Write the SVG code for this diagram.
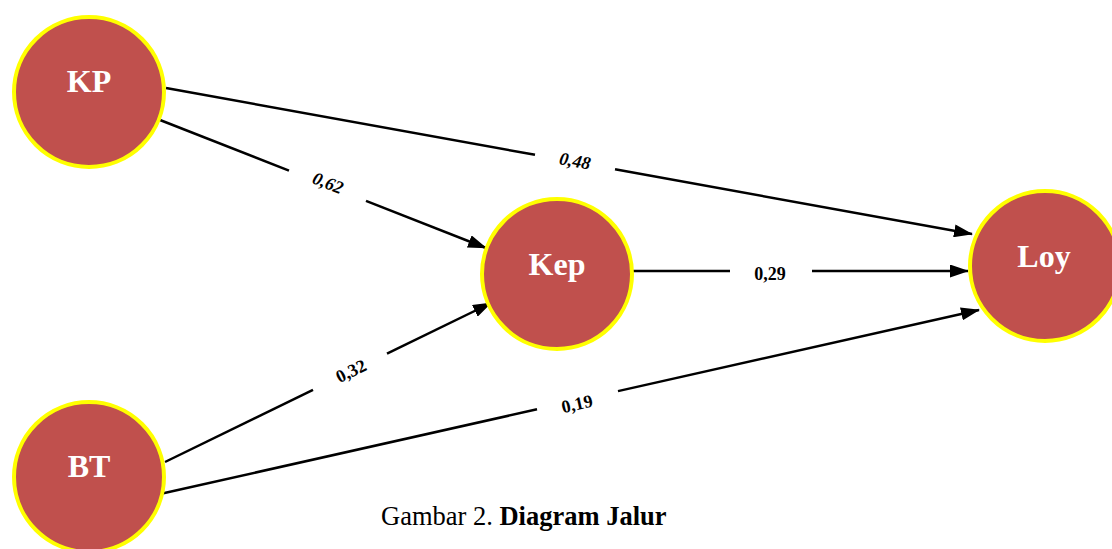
<svg xmlns="http://www.w3.org/2000/svg" width="1112" height="549" viewBox="0 0 1112 549">
<style>
.node{fill:#C0504D;stroke:#FFFF00;stroke-width:4}
.nt{font-family:"Liberation Serif",serif;font-weight:bold;font-size:32px;fill:#FFFFFF;text-anchor:middle}
.ln{stroke:#000;stroke-width:2.5;fill:none}
.lb{font-family:"Liberation Serif",serif;font-weight:bold;font-size:18px;fill:#000;text-anchor:middle;dominant-baseline:central}
.it{font-style:italic}
.cap{font-family:"Liberation Serif",serif;font-size:26.5px;fill:#000}
</style>
<defs>
<marker id="ah" markerUnits="userSpaceOnUse" markerWidth="19" markerHeight="13" refX="18" refY="6.5" orient="auto">
<path d="M0,0 L19,6.5 L0,13 z" fill="#000"/>
</marker>
</defs>
<rect width="1112" height="549" fill="#fff"/>
<g id="connectors">
<line class="ln" x1="166" y1="88" x2="535" y2="154.8"/>
<line class="ln" x1="615" y1="169.3" x2="972" y2="234" marker-end="url(#ah)"/>
<line class="ln" x1="160" y1="120" x2="289" y2="170.6"/>
<line class="ln" x1="366" y1="200.9" x2="486" y2="248" marker-end="url(#ah)"/>
<line class="ln" x1="633" y1="271" x2="730" y2="271"/>
<line class="ln" x1="812" y1="271" x2="968" y2="271" marker-end="url(#ah)"/>
<line class="ln" x1="165" y1="462" x2="313" y2="389.8"/>
<line class="ln" x1="387" y1="353.7" x2="491" y2="303" marker-end="url(#ah)"/>
<line class="ln" x1="160" y1="494" x2="537" y2="409.3"/>
<line class="ln" x1="618" y1="391.1" x2="979" y2="310" marker-end="url(#ah)"/>
<text class="lb it" transform="translate(575,161) rotate(10.3)">0,48</text>
<text class="lb it" transform="translate(328,183) rotate(21.4)">0,62</text>
<text class="lb" transform="translate(770,274)">0,29</text>
<text class="lb" transform="translate(351,371) rotate(-26)">0,32</text>
<text class="lb" transform="translate(577,404) rotate(-12.7)">0,19</text>
</g>
<g id="KP"><circle class="node" cx="89" cy="92" r="75"/><text class="nt" x="89" y="92">KP</text></g>
<g id="Kep"><circle class="node" cx="557" cy="274" r="75"/><text class="nt" x="557" y="275">Kep</text></g>
<g id="Loy"><circle class="node" cx="1045" cy="266" r="75"/><text class="nt" x="1044" y="267">Loy</text></g>
<g id="BT"><circle class="node" cx="89" cy="477" r="75"/><text class="nt" x="89" y="477">BT</text></g>
<text class="cap" x="381" y="525">Gambar 2. <tspan font-weight="bold">Diagram Jalur</tspan></text>
</svg>
